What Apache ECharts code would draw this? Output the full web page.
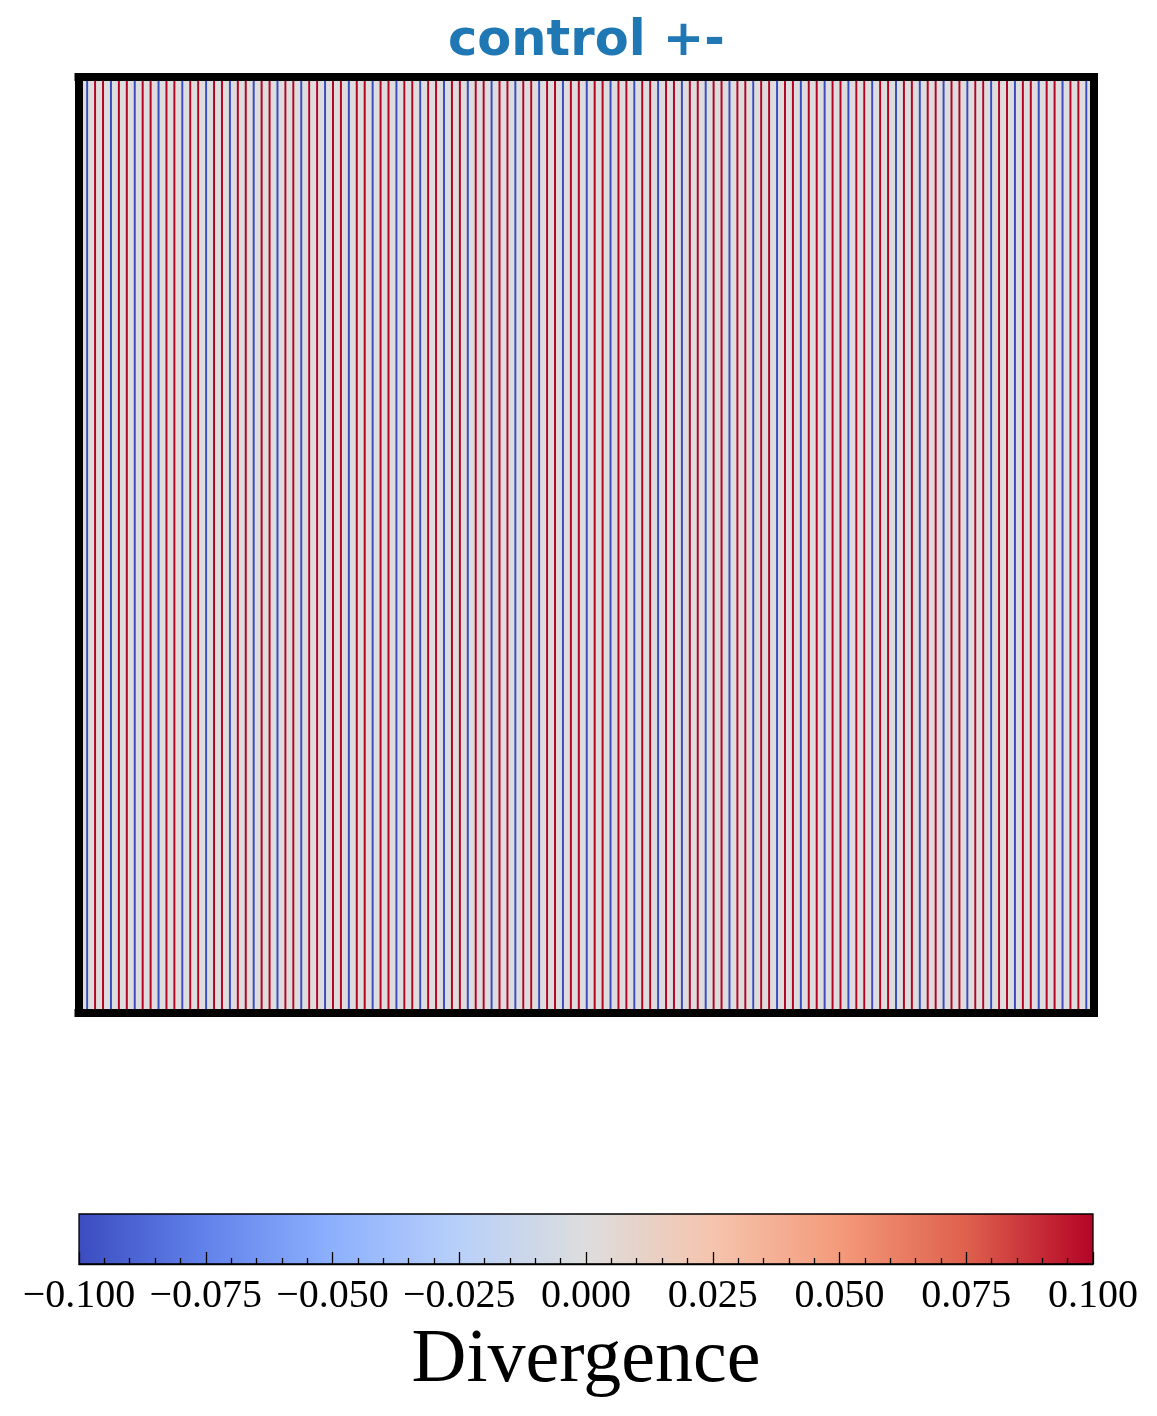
<!DOCTYPE html>
<html><head><meta charset="utf-8">
<script src="https://cdn.jsdelivr.net/npm/echarts@6/dist/echarts.min.js"></script>
<style>html,body{margin:0;padding:0;background:#fff}#c{width:1157px;height:1416px}</style>
</head><body><div id="c"></div>
<script>
const titleText = 'control +-';
// one value per image column (512 columns)
const columnValues = [
  0.1,0,0,0, -0.1,0,0,0, 0.1,0,0,0, 0.1,0,0,0, -0.1,0,0,0, 0.1,0,0,0,
  0.1,0,0,0, -0.1,0,0,0, 0.1,0,0,0, 0.1,0,0,0, -0.1,0,0,0, 0.1,0,0,0,
  0.1,0,0,0, -0.1,0,0,0, 0.1,0,0,0, 0.1,0,0,0, -0.1,0,0,0, 0.1,0,0,0,
  0.1,0,0,0, -0.1,0,0,0, 0.1,0,0,0, 0.1,0,0,0, -0.1,0,0,0, 0.1,0,0,0,
  0.1,0,0,0, -0.1,0,0,0, 0.1,0,0,0, 0.1,0,0,0, -0.1,0,0,0, 0.1,0,0,0,
  0.1,0,0,0, -0.1,0,0,0, 0.1,0,0,0, 0.1,0,0,0, -0.1,0,0,0, 0.1,0,0,0,
  0.1,0,0,0, -0.1,0,0,0, 0.1,0,0,0, 0.1,0,0,0, -0.1,0,0,0, 0.1,0,0,0,
  0.1,0,0,0, -0.1,0,0,0, 0.1,0,0,0, 0.1,0,0,0, -0.1,0,0,0, 0.1,0,0,0,
  0.1,0,0,0, -0.1,0,0,0, 0.1,0,0,0, 0.1,0,0,0, -0.1,0,0,0, 0.1,0,0,0,
  0.1,0,0,0, -0.1,0,0,0, 0.1,0,0,0, 0.1,0,0,0, -0.1,0,0,0, 0.1,0,0,0,
  0.1,0,0,0, -0.1,0,0,0, 0.1,0,0,0, 0.1,0,0,0, -0.1,0,0,0, 0.1,0,0,0,
  0.1,0,0,0, -0.1,0,0,0, 0.1,0,0,0, 0.1,0,0,0, -0.1,0,0,0, 0.1,0,0,0,
  0.1,0,0,0, -0.1,0,0,0, 0.1,0,0,0, 0.1,0,0,0, -0.1,0,0,0, 0.1,0,0,0,
  0.1,0,0,0, -0.1,0,0,0, 0.1,0,0,0, 0.1,0,0,0, -0.1,0,0,0, 0.1,0,0,0,
  0.1,0,0,0, -0.1,0,0,0, 0.1,0,0,0, 0.1,0,0,0, -0.1,0,0,0, 0.1,0,0,0,
  0.1,0,0,0, -0.1,0,0,0, 0.1,0,0,0, 0.1,0,0,0, -0.1,0,0,0, 0.1,0,0,0,
  0.1,0,0,0, -0.1,0,0,0, 0.1,0,0,0, 0.1,0,0,0, -0.1,0,0,0, 0.1,0,0,0,
  0.1,0,0,0, -0.1,0,0,0, 0.1,0,0,0, 0.1,0,0,0, -0.1,0,0,0, 0.1,0,0,0,
  0.1,0,0,0, -0.1,0,0,0, 0.1,0,0,0, 0.1,0,0,0, -0.1,0,0,0, 0.1,0,0,0,
  0.1,0,0,0, -0.1,0,0,0, 0.1,0,0,0, 0.1,0,0,0, -0.1,0,0,0, 0.1,0,0,0,
  0.1,0,0,0, -0.1,0,0,0, 0.1,0,0,0, 0.1,0,0,0, -0.1,0,0,0, 0.1,0,0,0,
  0.1,0,0,0, -0.1,0,0,0
];
const rowCategories = ['0'];
const colorbarRange = [-0.1, 0.1];
const colorbarTicks = [-0.1, -0.075, -0.05, -0.025, 0, 0.025, 0.05, 0.075, 0.1];
const colorbarTickLabels = ['\u22120.100', '\u22120.075', '\u22120.050', '\u22120.025', '0.000', '0.025', '0.050', '0.075', '0.100'];
const colorbarLabel = 'Divergence';
const coolwarm = ['#3b4cc0', '#6282ea', '#8db0fe', '#b8d0f9', '#dddddd', '#f5c4ad', '#f49a7b', '#de604d', '#b40426'];

const columnCategories = columnValues.map((v, i) => String(i));
const heatData = columnValues.map((v, i) => [i, 0, v]);

const chart = echarts.init(document.getElementById('c'), null, {renderer: 'canvas'});

const borderLine = {show: true, lineStyle: {color: '#000', width: 8, cap: 'square'}};
const serif = 'Liberation Serif';

function tickLabel(v) {
  let best = 0, bd = Infinity;
  colorbarTicks.forEach((t, i) => { const d = Math.abs(t - v); if (d < bd) { bd = d; best = i; } });
  return colorbarTickLabels[best];
}

const option = {
  backgroundColor: '#ffffff',
  animation: false,
  title: {
    text: titleText, left: 443, top: 12,
    textStyle: {fontFamily: 'DejaVu Sans', fontWeight: 'bold', fontSize: 49.5, color: '#1f77b4'}
  },
  grid: [
    {left: 78.5, top: 77, width: 1015, height: 936, show: true, backgroundColor: '#dddddd', borderWidth: 0},
    {left: 79, top: 1214, width: 1014, height: 50}
  ],
  xAxis: [
    {type: 'category', gridIndex: 0, data: columnCategories, position: 'bottom', z: 10,
     axisLine: borderLine, axisTick: {show: false}, axisLabel: {show: false}, splitLine: {show: false}},
    {type: 'category', gridIndex: 0, data: columnCategories, position: 'top', z: 10,
     axisLine: borderLine, axisTick: {show: false}, axisLabel: {show: false}, splitLine: {show: false}},
    {type: 'value', gridIndex: 1, min: colorbarRange[0], max: colorbarRange[1], interval: 0.025, position: 'bottom', z: 10,
     axisLine: {show: true, lineStyle: {color: '#000', width: 1.3}},
     axisTick: {show: true, inside: true, length: 12, lineStyle: {color: '#000', width: 1.3}},
     minorTick: {show: true, splitNumber: 5, length: 6, lineStyle: {color: '#000', width: 1.3}},
     splitLine: {show: false}, minorSplitLine: {show: false},
     axisLabel: {show: true, margin: 12, showMinLabel: true, showMaxLabel: true,
       fontFamily: serif, fontSize: 40, color: '#000', formatter: tickLabel},
     name: colorbarLabel, nameLocation: 'middle', nameGap: 59,
     nameTextStyle: {fontFamily: serif, fontSize: 76, color: '#000'}}
  ],
  yAxis: [
    {type: 'category', gridIndex: 0, data: rowCategories, position: 'left', z: 10,
     axisLine: borderLine, axisTick: {show: false}, axisLabel: {show: false}, splitLine: {show: false}},
    {type: 'category', gridIndex: 0, data: rowCategories, position: 'right', z: 10,
     axisLine: borderLine, axisTick: {show: false}, axisLabel: {show: false}, splitLine: {show: false}},
    {type: 'value', gridIndex: 1, min: 0, max: 1, show: false}
  ],
  visualMap: {
    type: 'continuous', show: false, min: colorbarRange[0], max: colorbarRange[1],
    seriesIndex: 0, dimension: 2, inRange: {color: coolwarm}
  },
  series: [
    {type: 'heatmap', xAxisIndex: 0, yAxisIndex: 0, data: heatData, progressive: 0,
     itemStyle: {borderWidth: 0}, emphasis: {disabled: true}},
    {type: 'custom', xAxisIndex: 2, yAxisIndex: 2, z: 2, silent: true,
     data: [[colorbarRange[0], colorbarRange[1]]],
     renderItem: function (params, api) {
       const p0 = api.coord([api.value(0), 1]);
       const p1 = api.coord([api.value(1), 0]);
       return {
         type: 'rect',
         shape: {x: p0[0], y: p0[1], width: p1[0] - p0[0], height: p1[1] - p0[1]},
         style: {
           fill: new echarts.graphic.LinearGradient(0, 0, 1, 0,
             coolwarm.map((c, i) => ({offset: i / (coolwarm.length - 1), color: c}))),
           stroke: '#000', lineWidth: 1.3
         }
       };
     }}
  ]
};
chart.setOption(option);
</script></body></html>
